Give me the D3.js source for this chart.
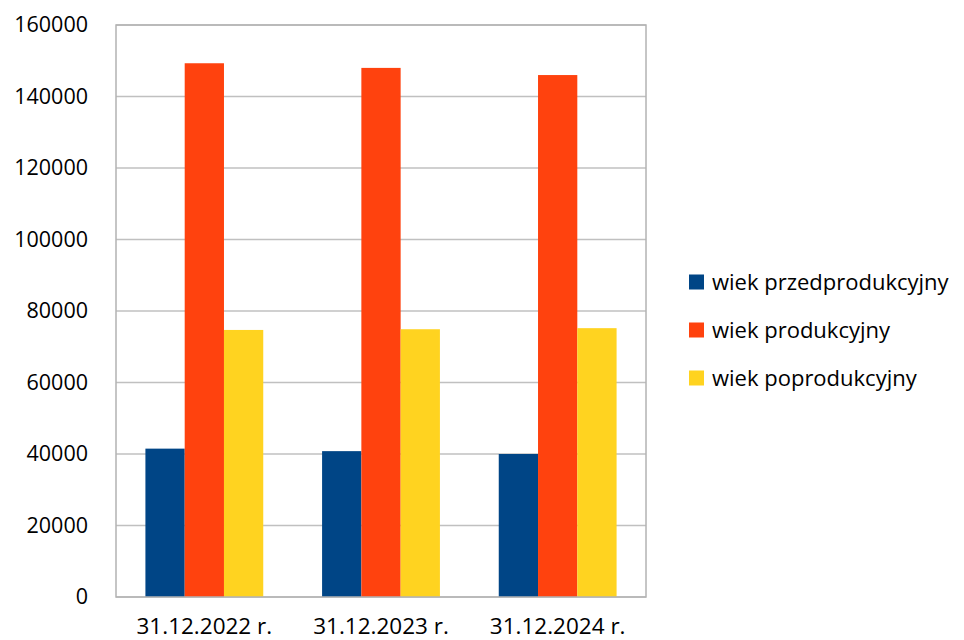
<!DOCTYPE html>
<html><head><meta charset="utf-8">
<script src="https://cdn.jsdelivr.net/npm/d3@7"></script>
<style>body{margin:0;background:#fff}svg{display:block}</style>
</head><body>
<svg id="c" width="964" height="640"></svg>
<script>
const categories = ["31.12.2022 r.", "31.12.2023 r.", "31.12.2024 r."];
const seriesNames = ["wiek przedprodukcyjny", "wiek produkcyjny", "wiek poprodukcyjny"];
const przedprodukcyjny = [41500, 40800, 40000];
const produkcyjny = [149300, 148000, 146000];
const poprodukcyjny = [74700, 74900, 75200];
const yTicks = [0, 20000, 40000, 60000, 80000, 100000, 120000, 140000, 160000];
const colors = ["#004586", "#ff420e", "#ffd320"];

const values = [przedprodukcyjny, produkcyjny, poprodukcyjny];
const svg = d3.select("#c");
const m = {l:116, r:646, t:25, b:597};
const font = "'Open Sans', sans-serif";

const x = d3.scaleBand().domain(categories).range([m.l, m.r]).paddingInner(0.333).paddingOuter(0.1665);
const xs = d3.scaleBand().domain(seriesNames).range([0, x.bandwidth()]);
const y = d3.scaleLinear().domain([0, 160000]).range([m.b, m.t]);

// gridlines
svg.append("g").selectAll("line").data(yTicks).join("line")
  .attr("x1", m.l).attr("x2", m.r)
  .attr("y1", d => y(d)).attr("y2", d => y(d))
  .attr("stroke", "#c0c0c0").attr("stroke-width", 1.3);

// bars
const g = svg.append("g");
categories.forEach((c, i) => {
  seriesNames.forEach((s, j) => {
    g.append("rect")
      .attr("x", x(c) + xs(s)).attr("width", xs.bandwidth())
      .attr("y", y(values[j][i])).attr("height", y(0) - y(values[j][i]))
      .attr("fill", colors[j]);
  });
});

// frame
svg.append("rect").attr("x", m.l).attr("y", m.t).attr("width", m.r - m.l).attr("height", m.b - m.t)
  .attr("fill", "none").attr("stroke", "#b3b3b3").attr("stroke-width", 1.5);

// y axis
const ya = svg.append("g").attr("transform", `translate(${m.l},0)`)
  .call(d3.axisLeft(y).tickValues(yTicks).tickSize(0).tickPadding(28).tickFormat(d3.format("d")));
ya.select(".domain").remove();
ya.selectAll("text").attr("font-family", font).attr("font-size", 21.5).attr("fill", "#000");

// x axis
const xa = svg.append("g").attr("transform", `translate(0,${m.b})`)
  .call(d3.axisBottom(x).tickSize(0).tickPadding(0));
xa.select(".domain").remove();
xa.selectAll("text").attr("font-family", font).attr("font-size", 22.5).attr("fill", "#000")
  .attr("dy", null).attr("y", 37);

// legend
const lg = svg.append("g");
seriesNames.forEach((s, j) => {
  const cy = 282 + j * 48;
  lg.append("rect").attr("x", 689).attr("y", cy - 7.5).attr("width", 15).attr("height", 15).attr("fill", colors[j]);
  lg.append("text").attr("x", 712).attr("y", cy).attr("dy", "0.35em")
    .attr("font-family", font).attr("font-size", 22).attr("fill", "#000").text(s);
});
</script>
</body></html>
